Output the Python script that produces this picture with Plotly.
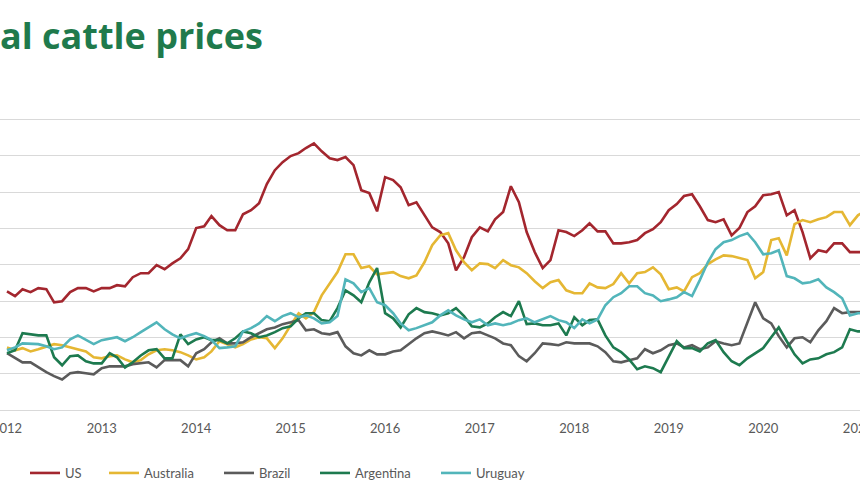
import pandas as pd
import plotly.graph_objects as go

# Monthly prices (index units), Jan 2012 onwards
months = pd.date_range("2012-01-01", periods=110, freq="MS")

us = [327,314,333,325,336,333,297,300,325,336,336,327,
      336,336,344,341,366,377,377,399,388,404,418,443,
      501,506,534,509,495,495,539,550,569,622,660,682,
      699,707,721,734,712,693,688,696,674,605,597,547,
      641,633,613,564,572,536,503,490,459,385,421,476,
      503,492,525,545,616,572,490,435,391,413,495,490,
      479,495,514,492,492,459,459,462,468,487,498,517,
      550,567,589,594,561,523,517,525,481,501,545,561,
      591,594,600,536,550,490,418,440,435,459,459,435,
      435,435]
australia = [173,165,171,162,168,176,182,179,173,168,162,146,
             143,149,151,140,132,138,154,165,168,165,160,151,
             140,146,162,190,182,173,182,195,201,198,171,198,
             234,267,253,270,316,347,380,429,429,391,396,374,
             377,380,369,363,371,407,454,481,487,440,407,385,
             404,402,391,413,399,393,377,355,336,352,358,330,
             322,322,349,338,336,347,377,349,377,380,393,374,
             333,338,327,366,377,402,415,426,424,418,413,363,
             380,468,473,426,512,523,517,525,531,545,545,509,
             536,550]
brazil = [157,143,132,132,118,105,94,85,102,105,102,99,
          116,121,121,121,127,129,132,118,138,138,138,121,
          157,168,187,198,184,184,187,201,212,223,228,237,
          242,248,220,223,212,209,215,176,157,151,165,154,
          154,162,165,182,198,212,217,212,206,215,198,212,
          215,206,198,184,179,149,135,157,184,182,179,187,
          184,184,184,176,160,135,132,138,143,168,157,165,
          179,184,173,179,168,173,190,184,179,184,239,297,
          253,239,204,173,198,201,187,220,245,281,267,270,
          270,270]
argentina = [157,165,212,209,206,206,146,124,149,151,135,129,
             129,157,146,118,132,151,165,168,143,143,209,182,
             195,201,193,193,184,198,217,212,201,206,215,226,
             231,253,267,267,248,245,281,330,316,297,352,391,
             267,253,228,264,281,270,267,261,267,281,259,231,
             228,239,256,270,259,300,237,239,234,234,239,206,
             256,234,248,250,206,173,160,140,113,121,116,105,
             146,190,171,171,162,184,193,160,135,124,143,157,
             171,201,228,190,154,129,140,143,154,160,173,223,
             217,217]
uruguay = [165,173,184,184,182,176,168,173,195,206,193,182,
           193,198,201,190,201,215,228,242,223,209,198,206,
           212,204,193,171,173,176,217,226,239,259,245,259,
           267,256,261,253,239,242,259,360,349,325,336,297,
           289,267,239,220,226,234,242,261,275,261,250,242,
           250,234,239,234,239,248,253,242,250,259,248,242,
           226,250,239,250,289,311,322,341,341,322,316,300,
           305,311,325,314,358,407,443,462,468,479,487,462,
           429,432,440,369,363,349,352,360,338,325,308,261,
           267,267]

years = [2012, 2013, 2014, 2015, 2016, 2017, 2018, 2019, 2020, 2021]
series_names = ["US", "Australia", "Brazil", "Argentina", "Uruguay"]
series_data = [us, australia, brazil, argentina, uruguay]
colors = ["#a3262e", "#e5b733", "#5b5b5b", "#1d7a4f", "#52b5ba"]
legend_ids = ["legend", "legend2", "legend3", "legend4", "legend5"]
legend_x = [25, 104, 219, 315, 436]

fig = go.Figure()
for name, vals, col, lid in zip(series_names, series_data, colors, legend_ids):
    fig.add_trace(go.Scatter(x=months, y=vals, mode="lines", name=name,
                             line=dict(color=col, width=2.6), legend=lid))

W, H = 860, 500
top, bottom = 112, 86
plot_h = H - top - bottom
legend_y = (H - bottom - 473) / plot_h

layout_legends = {}
for lid, lx in zip(legend_ids, legend_x):
    layout_legends[lid] = dict(x=lx / W, y=legend_y, xanchor="left", yanchor="middle",
                               orientation="h", bgcolor="rgba(0,0,0,0)",
                               font=dict(family="Lato", size=13, color="#595959"))

fig.update_layout(
    width=W, height=H,
    margin=dict(l=0, r=0, t=top, b=bottom),
    paper_bgcolor="white", plot_bgcolor="white",
    template="none",
    showlegend=True,
    title=dict(text="<b>al cattle prices</b>", x=0, xref="container", xanchor="left",
               y=1 - 36.5 / H, yanchor="middle",
               font=dict(family="Open Sans", size=36, color="#1f7a4c")),
    xaxis=dict(type="date", range=["2011-12-05", "2021-01-09"],
               tickvals=[f"{y}-01-01" for y in years], ticktext=[str(y) for y in years],
               showgrid=False, showline=False, zeroline=False, ticks="",
               automargin=False, ticklabeloverflow="allow", ticklabelstandoff=5,
               tickfont=dict(family="Lato", size=13, color="#595959")),
    yaxis=dict(range=[-10, 820], dtick=100, tick0=0, showgrid=True,
               gridcolor="#d9d9d9", gridwidth=1, zeroline=False,
               showticklabels=False, showline=False, ticks="", automargin=False),
    **layout_legends,
)

fig.write_html("out.html", config={"displayModeBar": False})
